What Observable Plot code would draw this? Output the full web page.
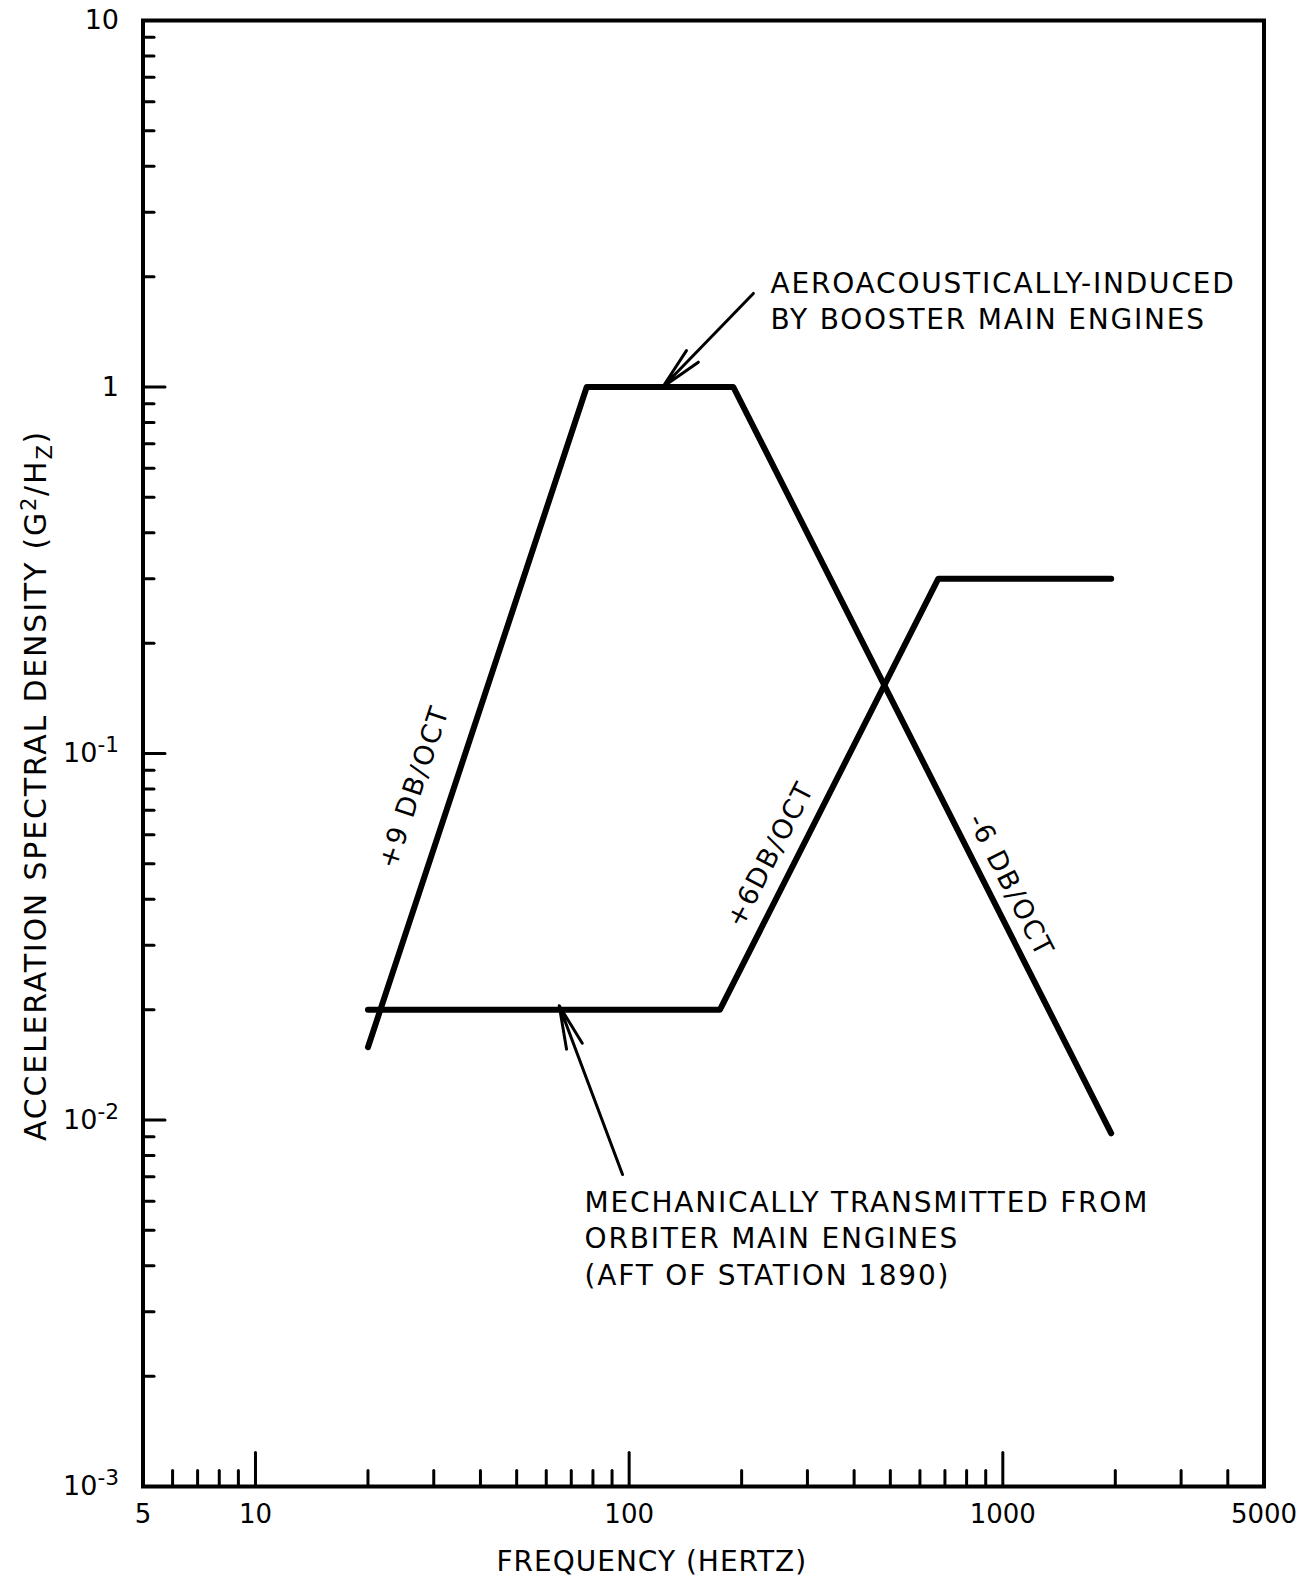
<!DOCTYPE html>
<html><head><meta charset="utf-8">
<script src="https://cdn.jsdelivr.net/npm/d3@7"></script>
<script src="https://cdn.jsdelivr.net/npm/@observablehq/plot@0.6"></script>
<style>html,body{margin:0;padding:0;background:#fff}svg{display:block}</style>
</head><body><div id="chart"></div>
<script>
// ---- data ----
const boosterFreq = [20, 77, 190, 1950];
const boosterASD = [0.0158, 1.0, 1.0, 0.0092];
const orbiterFreq = [20, 175, 672, 1950];
const orbiterASD = [0.02, 0.02, 0.3, 0.3];

const xTickLabels = [5, 10, 100, 1000, 5000];
const xMajorTicks = [10, 100, 1000];
const xMinorTicks = [6, 7, 8, 9, 20, 30, 40, 50, 60, 70, 80, 90, 200, 300, 400, 500, 600, 700, 800, 900, 2000, 3000, 4000];
const yTickLabels = [1e-3, 1e-2, 1e-1, 1, 10];
const yTickText = ["10^-3", "10^-2", "10^-1", "1", "10"];
const yMajorTicks = [1e-2, 1e-1, 1];
const yMinorTicks = [2e-3, 3e-3, 4e-3, 5e-3, 6e-3, 7e-3, 8e-3, 9e-3,
  2e-2, 3e-2, 4e-2, 5e-2, 6e-2, 7e-2, 8e-2, 9e-2,
  0.2, 0.3, 0.4, 0.5, 0.6, 0.7, 0.8, 0.9,
  2, 3, 4, 5, 6, 7, 8, 9];

const annotationText = ["AEROACOUSTICALLY-INDUCED\nBY BOOSTER MAIN ENGINES",
  "MECHANICALLY TRANSMITTED FROM\nORBITER MAIN ENGINES\n(AFT OF STATION 1890)"];
const slopeText = ["+9 DB/OCT", "+6DB/OCT", "-6 DB/OCT"];
const xTitle = "FREQUENCY (HERTZ)";
const yTitle = "ACCELERATION SPECTRAL DENSITY (G^2/H_Z)";

// ---- tables built from the arrays ----
const booster = boosterFreq.map((f, i) => ({f, asd: boosterASD[i]}));
const orbiter = orbiterFreq.map((f, i) => ({f, asd: orbiterASD[i]}));
const notes = [
  {f: 239, asd: 2.13, text: annotationText[0]},
  {f: 76, asd: 0.0066, text: annotationText[1]}
];
const arrows = [
  {x1: 215, y1: 1.8, x2: 123, y2: 1.0},
  {x1: 96, y1: 0.0071, x2: 65, y2: 0.0205}
];
const slopes = [
  {f: 26.6, asd: 0.081, text: slopeText[0], angle: -71.5},
  {f: 239, asd: 0.053, text: slopeText[1], angle: -62.7},
  {f: 1048, asd: 0.0436, text: slopeText[2], angle: 63}
];

const FONT = "'DejaVu Sans', 'Liberation Sans', sans-serif";
const spike = {draw(ctx, l) { ctx.moveTo(0, 0); ctx.lineTo(0, -l); }};

const chart = Plot.plot({
  width: 1308, height: 1585,
  marginLeft: 142.5, marginRight: 44.5, marginTop: 20, marginBottom: 99,
  style: {fontFamily: FONT, color: "#000", background: "#fff", overflow: "visible"},
  x: {type: "log", domain: [5, 5000], axis: null},
  y: {type: "log", domain: [1e-3, 10], axis: null},
  marks: [
    Plot.axisX(xTickLabels, {tickSize: 0, tickPadding: 18, fontSize: 26, tickFormat: d => String(d), label: null}),
    Plot.axisY(yTickLabels, {tickSize: 0, tickPadding: 24, fontSize: 27, tickFormat: d => yTickText[yTickLabels.indexOf(d)], label: null}),
    Plot.vector(xMinorTicks, {x: d => d, frameAnchor: "bottom", length: 16, anchor: "start", shape: spike, strokeWidth: 3}),
    Plot.vector(xMajorTicks, {x: d => d, frameAnchor: "bottom", length: 34, anchor: "start", shape: spike, strokeWidth: 3}),
    Plot.vector(yMinorTicks, {y: d => d, frameAnchor: "left", length: 11, rotate: 90, anchor: "start", shape: spike, strokeWidth: 3}),
    Plot.vector(yMajorTicks, {y: d => d, frameAnchor: "left", length: 22, rotate: 90, anchor: "start", shape: spike, strokeWidth: 3}),
    Plot.frame({strokeWidth: 4}),
    Plot.line(booster, {x: "f", y: "asd", strokeWidth: 6, strokeLinecap: "round", strokeLinejoin: "round"}),
    Plot.line(orbiter, {x: "f", y: "asd", strokeWidth: 6, strokeLinecap: "round", strokeLinejoin: "round"}),
    Plot.arrow(arrows, {x1: "x1", y1: "y1", x2: "x2", y2: "y2", strokeWidth: 3, headLength: 22, headAngle: 22}),
    Plot.text(notes, {x: "f", y: "asd", text: "text", textAnchor: "start", lineAnchor: "top", lineHeight: 1.3, fontSize: 28, className: "spaced"}),
    Plot.text(slopes, {x: "f", y: "asd", text: "text", rotate: "angle", textAnchor: "middle", lineAnchor: "middle", fontSize: 27, className: "spaced"}),
    Plot.text([xTitle], {x: () => 115, frameAnchor: "bottom", dy: 76, text: d => d, textAnchor: "middle", fontSize: 28, lineAnchor: "middle", className: "xtitle"}),
    Plot.text([yTitle], {y: () => 0.0818, frameAnchor: "left", dx: -107, rotate: -90, text: d => d, textAnchor: "middle", fontSize: 30, lineAnchor: "middle", className: "spaced"})
  ]
});
document.getElementById("chart").appendChild(chart);

// letter spacing for annotation / title text (Plot has no letterSpacing option)
d3.select(chart).selectAll(".spaced text").attr("letter-spacing", "1.8px");
d3.select(chart).selectAll(".xtitle text").attr("letter-spacing", "1px");

// turn ^x / _x markers into real superscript / subscript tspans
function markup(textEl, scale) {
  const s = textEl.textContent;
  if (!/[\^_]/.test(s)) return;
  const sel = d3.select(textEl);
  sel.text(null);
  const re = /([\^_])(-?\w)/g;
  let last = 0, m, shift = 0;
  while ((m = re.exec(s))) {
    if (m.index > last) { sel.append("tspan").attr("dy", -shift + "em").text(s.slice(last, m.index)); shift = 0; }
    const sh = m[1] === "^" ? -0.45 : 0.3;
    sel.append("tspan").attr("dy", (sh - shift) + "em").attr("font-size", scale + "em").text(m[2]);
    shift = sh * scale;
    last = m.index + m[0].length;
  }
  if (last < s.length) sel.append("tspan").attr("dy", -shift + "em").text(s.slice(last));
}
d3.select(chart).selectAll("g[aria-label='y-axis tick label'] text").each(function() { markup(this, 0.8); });
d3.select(chart).selectAll("text").filter(function() { return this.textContent.includes("G^2"); }).each(function() { markup(this, 0.7); });
</script></body></html>
